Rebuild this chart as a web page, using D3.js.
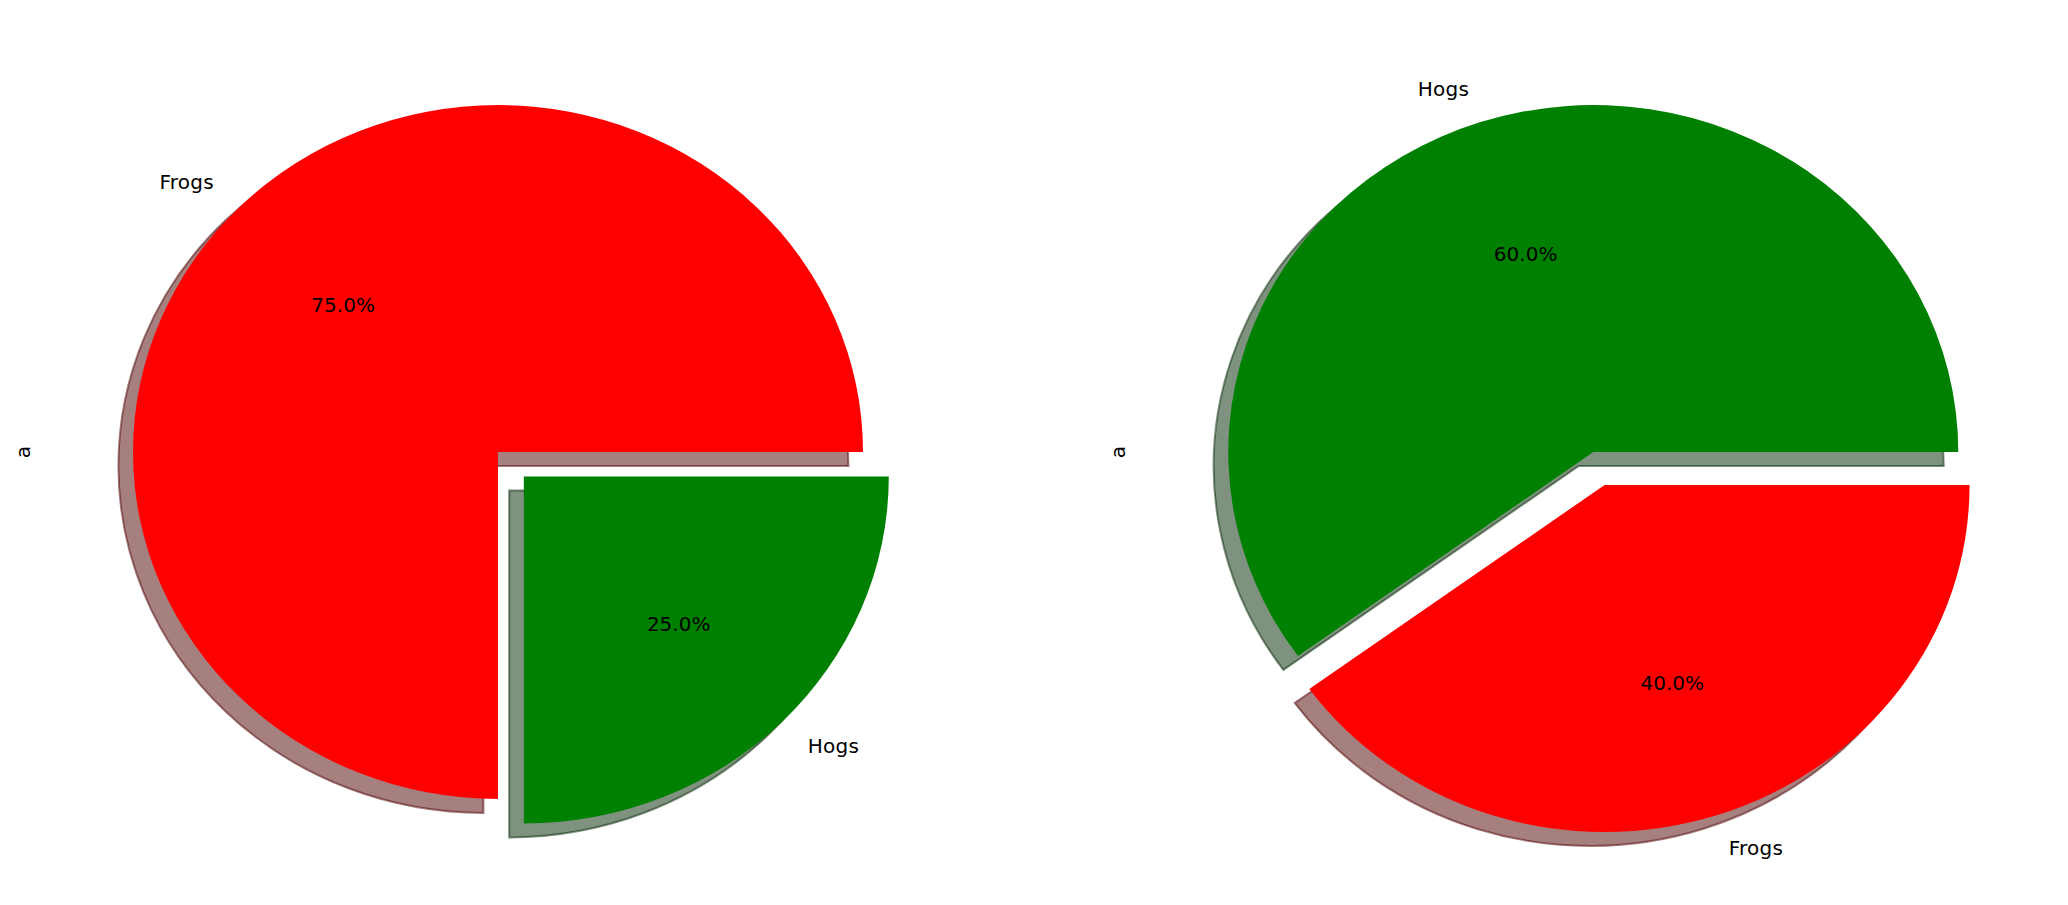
<!DOCTYPE html>
<meta charset="utf-8">
<style>
body { margin: 0; background: #fff; }
svg text { font-family: "DejaVu Sans", sans-serif; font-size: 20px; fill: #000; }
.lab { letter-spacing: 0.3px; }
</style>
<body>
<script src="https://cdn.jsdelivr.net/npm/d3@7"></script>
<script>

// data for the two pies
var leftLabels = ["Frogs", "Hogs"];
var leftValues = [75, 25];
var leftColors = ["#ff0000", "#008000"];
var leftExplode = [0, 0.1];

var rightLabels = ["Hogs", "Frogs"];
var rightValues = [60, 40];
var rightColors = ["#008000", "#ff0000"];
var rightExplode = [0, 0.1];

var yLabel = "a";

// figure size and layout
var W = 2068, H = 905;
var rx = 365, ry = 347;   // pie is drawn stretched like the original
var cy = 452;
var panels = [
  {cx: 498, labelX: 30, labels: leftLabels, values: leftValues, colors: leftColors, explode: leftExplode},
  {cx: 1593.3, labelX: 1125.3, labels: rightLabels, values: rightValues, colors: rightColors, explode: rightExplode}
];

var svg = d3.select("body").append("svg")
    .attr("width", W)
    .attr("height", H);

// matplotlib starts at 3 o'clock and goes counter-clockwise
var pie = d3.pie()
    .sort(null)
    .startAngle(Math.PI / 2)
    .endAngle(Math.PI / 2 - 2 * Math.PI);

var arc = d3.arc().innerRadius(0).outerRadius(1);

function shade(c) {
  var r = d3.rgb(c);
  return d3.rgb(r.r * 0.3, r.g * 0.3, r.b * 0.3).toString();
}

panels.forEach(function(p) {
  var x = d3.scaleLinear().domain([-1, 1]).range([p.cx - rx, p.cx + rx]);
  var y = d3.scaleLinear().domain([-1, 1]).range([cy + ry, cy - ry]);

  var arcs = pie(p.values);
  arcs.forEach(function(d, i) {
    var mid = (d.startAngle + d.endAngle) / 2;
    d.ux = Math.sin(mid);
    d.uy = Math.cos(mid);   // data y goes up
    d.ex = p.explode[i] * d.ux;
    d.ey = p.explode[i] * d.uy;
    d.label = p.labels[i];
    d.color = p.colors[i];
    d.pct = (100 * d.value / d3.sum(p.values)).toFixed(1) + "%";
  });

  var g = svg.append("g");

  // shadows under everything
  g.selectAll(".shadow")
      .data(arcs)
    .enter().append("path")
      .attr("class", "shadow")
      .attr("transform", function(d) {
        return "translate(" + x(d.ex - 0.04) + "," + y(d.ey - 0.04) + ") scale(" + rx + "," + ry + ")";
      })
      .attr("d", arc)
      .attr("fill", function(d) { return shade(d.color); })
      .attr("fill-opacity", 0.5)
      .attr("stroke", function(d) { return shade(d.color); })
      .attr("stroke-opacity", 0.5)
      .attr("stroke-width", 2)
      .attr("vector-effect", "non-scaling-stroke");

  g.selectAll(".wedge")
      .data(arcs)
    .enter().append("path")
      .attr("class", "wedge")
      .attr("transform", function(d) {
        return "translate(" + x(d.ex) + "," + y(d.ey) + ") scale(" + rx + "," + ry + ")";
      })
      .attr("d", arc)
      .attr("fill", function(d) { return d.color; });

  // outer labels
  g.selectAll(".lab")
      .data(arcs)
    .enter().append("text")
      .attr("class", "lab")
      .attr("x", function(d) { return x(d.ex + 1.1 * d.ux); })
      .attr("y", function(d) { return y(d.ey + 1.1 * d.uy); })
      .attr("dy", "0.33em")
      .style("text-anchor", function(d) { return d.ux < 0 ? "end" : "start"; })
      .text(function(d) { return d.label; });

  // percentages
  g.selectAll(".pct")
      .data(arcs)
    .enter().append("text")
      .attr("class", "pct")
      .attr("x", function(d) { return x(d.ex + 0.6 * d.ux); })
      .attr("y", function(d) { return y(d.ey + 0.6 * d.uy); })
      .attr("dy", "0.345em")
      .style("text-anchor", "middle")
      .text(function(d) { return d.pct; });

  svg.append("text")
      .attr("transform", "translate(" + p.labelX + "," + y(0) + ") rotate(-90)")
      .style("text-anchor", "middle")
      .text(yLabel);
});

</script>
</body>
